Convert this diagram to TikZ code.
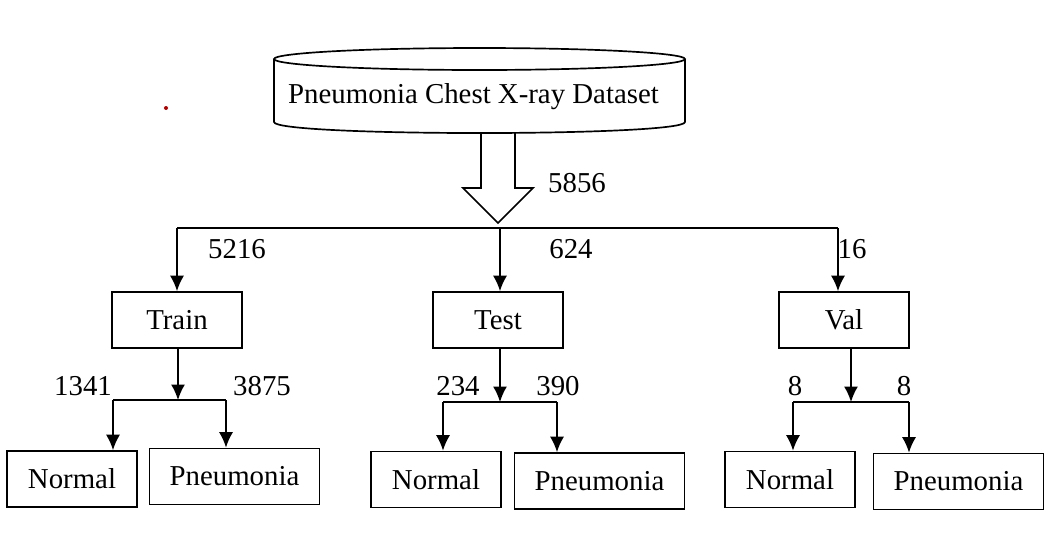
\documentclass[tikz,border=0pt]{standalone}
\usepackage{fontspec}
\setmainfont{Liberation Serif}
\usetikzlibrary{arrows.meta}
\tikzset{>={Latex[length=11pt,width=10pt]}}
\tikzset{
  box/.style={draw, line width=1.2pt, minimum width=3.25cm, minimum height=1.4cm, inner sep=0pt},
  widebox/.style={box, minimum width=4.25cm},
  cnt/.style={inner sep=0pt}
}

\begin{document}
\begin{tikzpicture}[x=0.025cm, y=-0.025cm, line width=1.2pt,
    font=\fontsize{20.5}{24}\selectfont]
    \useasboundingbox (0, 0) rectangle (1048, 542);
    % stray dot
    \fill[red!70!black] (166, 108) circle[radius=2];

    % dataset cylinder
    \draw (479.5, 59) ellipse[x radius=205.5, y radius=11];
    \draw (274, 59) -- (274, 122) .. controls (274, 136.7) and (685, 136.7) .. (685, 122) -- (685, 59);
    \node (ds) at (473.5, 97) {Pneumonia Chest X-ray Dataset};
    \coordinate (dsb) at (498, 133);

    % hollow arrow
    \draw (dsb) ++(-17, 0) -- ++(0, 55) -- ++(-18, 0) -- ++(35, 35) -- ++(35, -35) -- ++(-18, 0) -- ++(0, -55);
    \node[cnt] (all) at (577, 183) {5856};

    % first split
    \node[box] (train) at (177, 320) {Train};
    \node[box] (test) at (498, 320) {Test};
    \node[box] (val) at (844, 320) {Val};
    \coordinate (hub) at (500, 228);
    \coordinate (vin) at (838, 228);
    \draw (train.north |- hub) -- (vin);
    \draw[->] (hub) -- (hub |- test.north);
    \draw[->] (train.north |- hub) -- (train.north);
    \draw[->] (vin) -- (vin |- val.north);
    \node[cnt] at (237, 249) {5216};
    \node[cnt] at (571, 249) {624};
    \node[cnt] at (852, 249) {16};

    % train
    \node[box] (n1) at (72, 479) {Normal};
    \node[widebox] (p1) at (234.5, 476.5) {Pneumonia};
    \coordinate (tj) at (178, 400);
    \coordinate (tl) at (113, 400);
    \coordinate (tr) at (226, 400);
    \draw[->] (train.south -| tj) -- (tj);
    \draw (tl) -- (tr);
    \draw[->] (tl) -- (tl |- n1.north);
    \draw[->] (tr) -- (tr |- p1.north);
    \node[cnt] at (83, 386) {1341};
    \node[cnt] at (262, 386) {3875};

    % test
    \node[box] (n2) at (436, 479.5) {Normal};
    \node[widebox] (p2) at (599.5, 481) {Pneumonia};
    \coordinate (ej) at (500, 402);
    \coordinate (el) at (443, 402);
    \coordinate (er) at (557, 402);
    \draw[->] (test.south -| ej) -- (ej);
    \draw (el) -- (er);
    \draw[->] (el) -- (el |- n2.north);
    \draw[->] (er) -- (er |- p2.north);
    \node[cnt] at (458, 386) {234};
    \node[cnt] at (558, 386) {390};

    % val
    \node[box] (n3) at (790, 479.5) {Normal};
    \node[widebox] (p3) at (958.5, 481.5) {Pneumonia};
    \coordinate (vj) at (851, 402);
    \coordinate (vl) at (793, 402);
    \coordinate (vr) at (909, 402);
    \draw[->] (val.south -| vj) -- (vj);
    \draw (vl) -- (vr);
    \draw[->] (vl) -- (vl |- n3.north);
    \draw[->] (vr) -- (vr |- p3.north);
    \node[cnt] at (795, 386) {8};
    \node[cnt] at (904, 386) {8};
\end{tikzpicture}
\end{document}
